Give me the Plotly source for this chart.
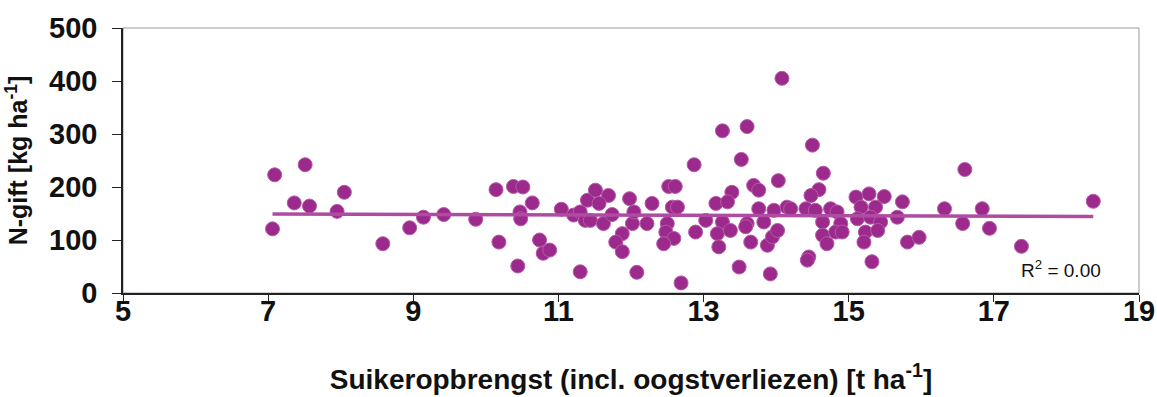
import numpy as np
import plotly.graph_objects as go

# Suikeropbrengst (t/ha) en N-gift (kg/ha) per perceel
suiker = [
    7.06, 7.09, 7.36, 7.51, 7.57, 7.95, 8.05, 8.58, 8.95, 9.14,
    9.42, 9.86, 10.14, 10.18, 10.38, 10.51, 10.64, 10.47, 10.48, 10.44,
    10.74, 10.79, 10.88, 11.04, 11.21, 11.30, 11.40, 11.37, 11.30, 14.08,
    13.26, 13.60, 13.52, 12.87, 14.03, 12.52, 12.61, 13.69, 13.76, 13.39,
    11.51, 11.69, 11.56, 11.98, 12.29, 12.57, 12.64, 13.17, 13.33, 13.76,
    13.97, 14.15, 11.44, 11.62, 11.74, 12.02, 12.04, 12.22, 12.50, 13.03,
    13.26, 13.60, 13.83, 11.88, 11.79, 11.88, 12.48, 12.59, 12.45, 12.89,
    13.19, 13.21, 13.37, 13.58, 13.65, 13.88, 13.95, 14.02, 12.08, 12.69,
    13.49, 13.92, 14.50, 14.65, 14.59, 14.48, 14.20, 14.41, 14.54, 14.75,
    14.84, 14.64, 14.89, 14.64, 14.70, 14.82, 14.91, 14.45, 14.43, 15.10,
    15.28, 15.49, 15.17, 15.37, 15.74, 15.12, 15.30, 15.44, 15.67, 15.23,
    15.40, 15.21, 15.81, 15.97, 15.32, 16.32, 16.57, 16.60, 16.84, 16.94,
    17.38, 18.37,
]
ngift = [
    121, 223, 170, 242, 164, 154, 190, 93, 123, 143,
    148, 139, 195, 96, 201, 200, 170, 153, 140, 51,
    100, 75, 81, 158, 147, 153, 175, 137, 40, 405,
    306, 314, 252, 242, 212, 201, 201, 203, 194, 190,
    194, 184, 169, 178, 169, 162, 162, 169, 172, 159,
    156, 162, 137, 131, 148, 131, 153, 131, 131, 137,
    134, 131, 134, 112, 96, 78, 115, 103, 93, 115,
    112, 87, 118, 125, 96, 90, 106, 118, 39, 19,
    49, 36, 279, 226, 195, 184, 159, 159, 156, 159,
    153, 134, 131, 109, 93, 115, 115, 68, 62, 181,
    187, 182, 162, 162, 172, 140, 143, 134, 143, 115,
    118, 96, 96, 105, 59, 159, 131, 233, 159, 122,
    88, 173,
]

x_ticks = [5, 7, 9, 11, 13, 15, 17, 19]
y_ticks = [0, 100, 200, 300, 400, 500]

xs = np.array(suiker)
ys = np.array(ngift)

# Lineaire trendlijn en R^2
slope, intercept = np.polyfit(xs, ys, 1)
fit = slope * xs + intercept
r2 = 1 - np.sum((ys - fit) ** 2) / np.sum((ys - ys.mean()) ** 2)
x_line = np.array([xs.min(), xs.max()])
y_line = slope * x_line + intercept

marker_col = "#9C2A8C"
line_col = "#AE4CA2"
font_main = "Liberation Sans, Arial, sans-serif"
font_narrow = "Liberation Sans Narrow, Arial Narrow, Liberation Sans, sans-serif"

fig = go.Figure()
fig.add_trace(go.Scatter(
    x=suiker, y=ngift, mode="markers",
    marker=dict(size=14, color=marker_col, line=dict(width=1, color="#B55AA8")),
    showlegend=False,
))
fig.add_trace(go.Scatter(
    x=x_line, y=y_line, mode="lines",
    line=dict(color=line_col, width=3.5),
    showlegend=False,
))

# Grijze kader rond het plotgebied
fig.add_shape(type="rect", xref="paper", yref="paper", x0=0, y0=0, x1=1, y1=1,
              line=dict(color="#9a9a9a", width=1), layer="below")

fig.add_annotation(
    x=0.882, y=0.09, xref="paper", yref="paper", xanchor="left", yanchor="middle",
    text=f"R<sup>2</sup> = {r2:.2f}", showarrow=False,
    font=dict(family=font_main, size=19, color="#111111"),
)

fig.update_layout(
    width=1157, height=397,
    margin=dict(l=123, r=18, t=28, b=104),
    paper_bgcolor="white", plot_bgcolor="white",
    font=dict(family=font_main, color="#111111"),
)
fig.update_xaxes(
    range=[5, 19], tickvals=x_ticks, ticktext=[str(v) for v in x_ticks],
    automargin=False,
    showgrid=False, zeroline=False, showline=True, linecolor="#222222", linewidth=1.5,
    ticks="outside", ticklen=7, tickcolor="#222222", ticklabelstandoff=-16,
    tickfont=dict(family=font_narrow, size=29, color="#111111", weight="bold"),
    title=dict(text="Suikeropbrengst (incl. oogstverliezen) [t ha<sup>-1</sup>]",
               font=dict(family=font_main, size=28, color="#111111", weight="bold"),
               standoff=44),
)
fig.update_yaxes(
    range=[0, 500], tickvals=y_ticks, ticktext=[str(v) for v in y_ticks],
    automargin=False,
    showgrid=False, zeroline=False, showline=True, linecolor="#222222", linewidth=1.5,
    ticks="outside", ticklen=9, tickcolor="#222222", ticklabelstandoff=9,
    tickfont=dict(family=font_main, size=29, color="#111111", weight="bold"),
    title=dict(text="N-gift [kg ha<sup>-1</sup>]",
               font=dict(family=font_main, size=25, color="#111111", weight="bold"),
               standoff=14),
)

fig.write_html("out.html")
